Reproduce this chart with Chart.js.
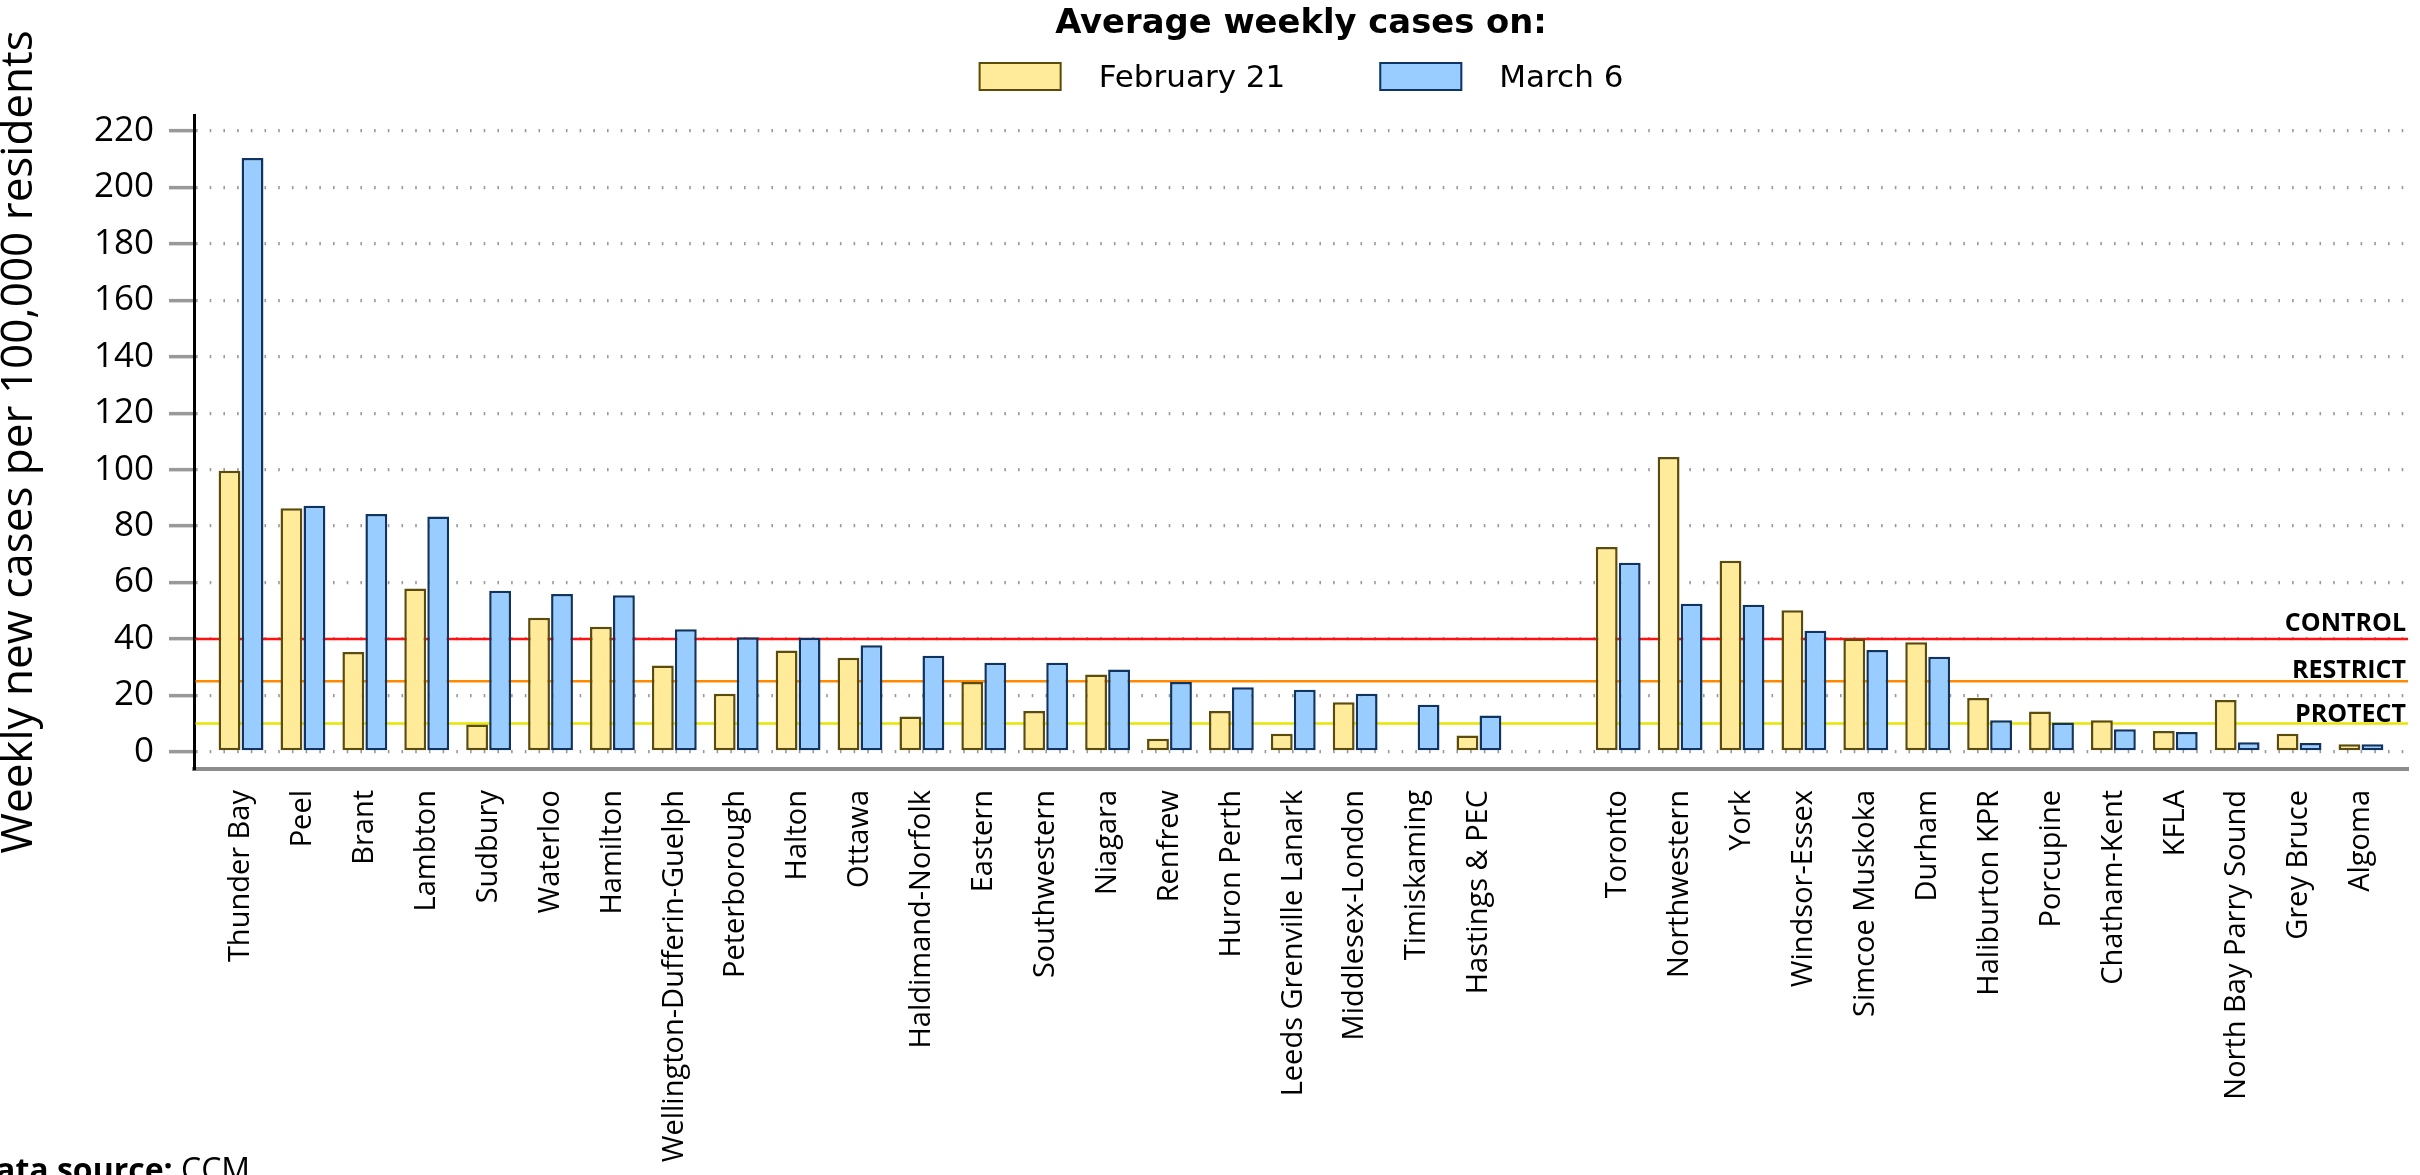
<!doctype html>
<html>
<head>
<meta charset="utf-8">
<title>Average weekly cases by health unit</title>
<script src="https://cdn.jsdelivr.net/npm/chart.js@4.4.1/dist/chart.umd.min.js"></script>
<style>
  html, body { margin: 0; padding: 0; background: #ffffff; overflow: hidden; }
  #wrap { position: relative; width: 2420px; height: 1175px; }
</style>
</head>
<body>
<div id="wrap"><canvas id="chart" width="2420" height="1175"></canvas></div>
<script>
// Health units, first the group that rose, then the group that fell.
const regions = [
  'Thunder Bay', 'Peel', 'Brant', 'Lambton', 'Sudbury', 'Waterloo', 'Hamilton',
  'Wellington-Dufferin-Guelph', 'Peterborough', 'Halton', 'Ottawa', 'Haldimand-Norfolk',
  'Eastern', 'Southwestern', 'Niagara', 'Renfrew', 'Huron Perth', 'Leeds Grenville Lanark',
  'Middlesex-London', 'Timiskaming', 'Hastings & PEC',
  'Toronto', 'Northwestern', 'York', 'Windsor-Essex', 'Simcoe Muskoka', 'Durham',
  'Haliburton KPR', 'Porcupine', 'Chatham-Kent', 'KFLA', 'North Bay Parry Sound',
  'Grey Bruce', 'Algoma'
];
const firstGroupSize = 21;

const feb21 = [
  99.6, 86.3, 35.4, 57.9, 9.7, 47.5, 44.3, 30.6, 20.6, 35.9, 33.3, 12.5, 24.7, 14.5,
  27.4, 4.6, 14.5, 6.4, 17.6, 0, 5.8,
  72.6, 104.5, 67.7, 50.2, 40.1, 38.8, 19.1, 14.3, 11.2, 7.4, 18.4, 6.4, 2.7
];
const mar6 = [
  210.5, 87.2, 84.3, 83.4, 57.1, 55.9, 55.5, 43.4, 40.6, 40.4, 37.8, 34.0, 31.6, 31.6,
  29.2, 24.7, 22.9, 22.0, 20.6, 16.7, 12.9,
  67.0, 52.5, 52.1, 42.9, 36.1, 33.7, 11.2, 10.4, 8.0, 7.0, 3.4, 3.1, 2.7
];
const seriesNames = ['February 21', 'March 6'];
const legendTitle = 'Average weekly cases on:';
const yTitle = 'Weekly new cases per 100,000 residents';
const yTicks = [0, 20, 40, 60, 80, 100, 120, 140, 160, 180, 200, 220];

const thresholdValues = [40, 25, 10];
const thresholdNames = ['CONTROL', 'RESTRICT', 'PROTECT'];
const thresholdColors = ['#ff1111', '#ff8a00', '#e6e600'];
const thresholdLift = [8, 3, 2];

// spacing of the category axis, in category slots
const EDGE_PAD = 0.76;
const GROUP_GAP = 1.25;

// Category axis that leaves an extra gap between the two groups of units
class GapCategoryScale extends Chart.CategoryScale {
  buildTicks() {
    const ticks = super.buildTicks();
    this._startValue = -EDGE_PAD;
    this._valueRange = this.getLabels().length - 1 + GROUP_GAP + 2 * EDGE_PAD;
    return ticks;
  }
  getPixelForValue(value) {
    if (typeof value !== 'number') value = this.parse(value);
    if (value === null || isNaN(value)) return NaN;
    const v = value >= firstGroupSize ? value + GROUP_GAP : value;
    return this.getPixelForDecimal((v - this._startValue) / this._valueRange);
  }
}
GapCategoryScale.id = 'gapcategory';
GapCategoryScale.defaults = Chart.CategoryScale.defaults;
Chart.register(GapCategoryScale);

const thresholdPlugin = {
  id: 'thresholds',
  beforeDatasetsDraw(chart) {
    const { ctx, chartArea, scales: { y } } = chart;
    ctx.save();
    thresholdValues.forEach((v, i) => {
      const py = y.getPixelForValue(v);
      ctx.strokeStyle = thresholdColors[i];
      ctx.lineWidth = 2.5;
      ctx.beginPath();
      ctx.moveTo(chartArea.left + 1.5, py);
      ctx.lineTo(chartArea.right, py);
      ctx.stroke();
    });
    ctx.restore();
  },
  afterDatasetsDraw(chart) {
    const { ctx, chartArea, scales: { y } } = chart;
    ctx.save();
    ctx.fillStyle = '#000000';
    ctx.font = 'bold 25px "Open Sans"';
    ctx.textAlign = 'right';
    ctx.textBaseline = 'alphabetic';
    thresholdValues.forEach((v, i) => {
      ctx.fillText(thresholdNames[i], chartArea.right - 2, y.getPixelForValue(v) - thresholdLift[i]);
    });
    ctx.restore();
  }
};

// legend block above the plot: bold title, then one row of boxes
const legendBlock = {
  id: 'legendBlock',
  afterDraw(chart) {
    const { ctx, chartArea } = chart;
    const cx = (chartArea.left + chartArea.right) / 2;
    const boxW = 83, boxH = 29, textGap = 37, itemGap = 94;
    ctx.save();
    ctx.fillStyle = '#000000';
    ctx.textBaseline = 'alphabetic';
    ctx.font = 'bold 33.8px "DejaVu Sans"';
    ctx.textAlign = 'center';
    ctx.fillText(legendTitle, cx, 33);

    ctx.font = '31px "DejaVu Sans"';
    ctx.textAlign = 'left';
    const items = chart.data.datasets.map(ds => ({
      text: ds.label, fill: ds.backgroundColor, stroke: ds.borderColor,
      w: ctx.measureText(ds.label).width
    }));
    const total = items.reduce((s, it) => s + boxW + textGap + it.w, 0) + itemGap * (items.length - 1);
    let x = cx - total / 2;
    items.forEach(it => {
      ctx.fillStyle = it.fill;
      ctx.fillRect(x, 62, boxW, boxH);
      ctx.lineWidth = 2;
      ctx.strokeStyle = it.stroke;
      ctx.strokeRect(x + 1, 63, boxW - 2, boxH - 2);
      ctx.fillStyle = '#000000';
      ctx.fillText(it.text, x + boxW + textGap, 87);
      x += boxW + textGap + it.w + itemGap;
    });
    ctx.restore();
  }
};

const sourceNote = {
  id: 'sourceNote',
  afterDraw(chart) {
    const { ctx } = chart;
    ctx.save();
    ctx.fillStyle = '#000000';
    ctx.textAlign = 'left';
    ctx.textBaseline = 'alphabetic';
    ctx.font = 'bold 32px "Open Sans"';
    const lead = 'Data source: ';
    const x0 = 181 - ctx.measureText(lead).width;
    ctx.fillText(lead, x0, 1181);
    ctx.font = '32px "Open Sans"';
    ctx.fillText('CCM', 181, 1181);
    ctx.restore();
  }
};

const barStyle = {
  borderWidth: 2.5,
  borderSkipped: false,
  categoryPercentage: 0.743,
  barPercentage: 0.95
};

new Chart(document.getElementById('chart'), {
  type: 'bar',
  data: {
    labels: regions,
    datasets: [
      Object.assign({ label: seriesNames[0], data: feb21, backgroundColor: '#ffeb99', borderColor: '#5c4c0c' }, barStyle),
      Object.assign({ label: seriesNames[1], data: mar6, backgroundColor: '#99ccff', borderColor: '#0f3461' }, barStyle)
    ]
  },
  options: {
    responsive: false,
    animation: false,
    devicePixelRatio: 1,
    events: [],
    layout: { padding: { top: 115, right: 12, left: 0, bottom: 0 } },
    plugins: { legend: { display: false }, tooltip: { enabled: false } },
    scales: {
      x: {
        type: 'gapcategory',
        afterFit(scale) { scale.height = 406; },
        grid: { display: false, drawTicks: false },
        border: { display: true, color: '#8c8c8c', width: 4 },
        ticks: {
          autoSkip: false, minRotation: 90, maxRotation: 90, padding: 21,
          color: '#000000', font: { family: 'Open Sans', size: 29 }
        }
      },
      y: {
        min: -6.1,
        max: 225.7,
        afterBuildTicks(scale) { scale.ticks = yTicks.map(v => ({ value: v })); },
        afterFit(scale) { scale.width = 194; },
        grid: { color: '#9a9a9a', lineWidth: 3.3, tickColor: '#999999', tickWidth: 3.5, tickLength: 25 },
        border: { display: true, color: '#000000', width: 3, dash: [1.6, 12.1] },
        ticks: { color: '#000000', font: { family: 'Open Sans', size: 35 }, padding: 15 },
        title: {
          display: true, text: yTitle, color: '#000000',
          font: { family: 'Open Sans', size: 44, lineHeight: 0.9 },
          padding: { top: 0, bottom: 0 }
        }
      }
    }
  },
  plugins: [thresholdPlugin, legendBlock, sourceNote]
});
</script>
</body>
</html>
